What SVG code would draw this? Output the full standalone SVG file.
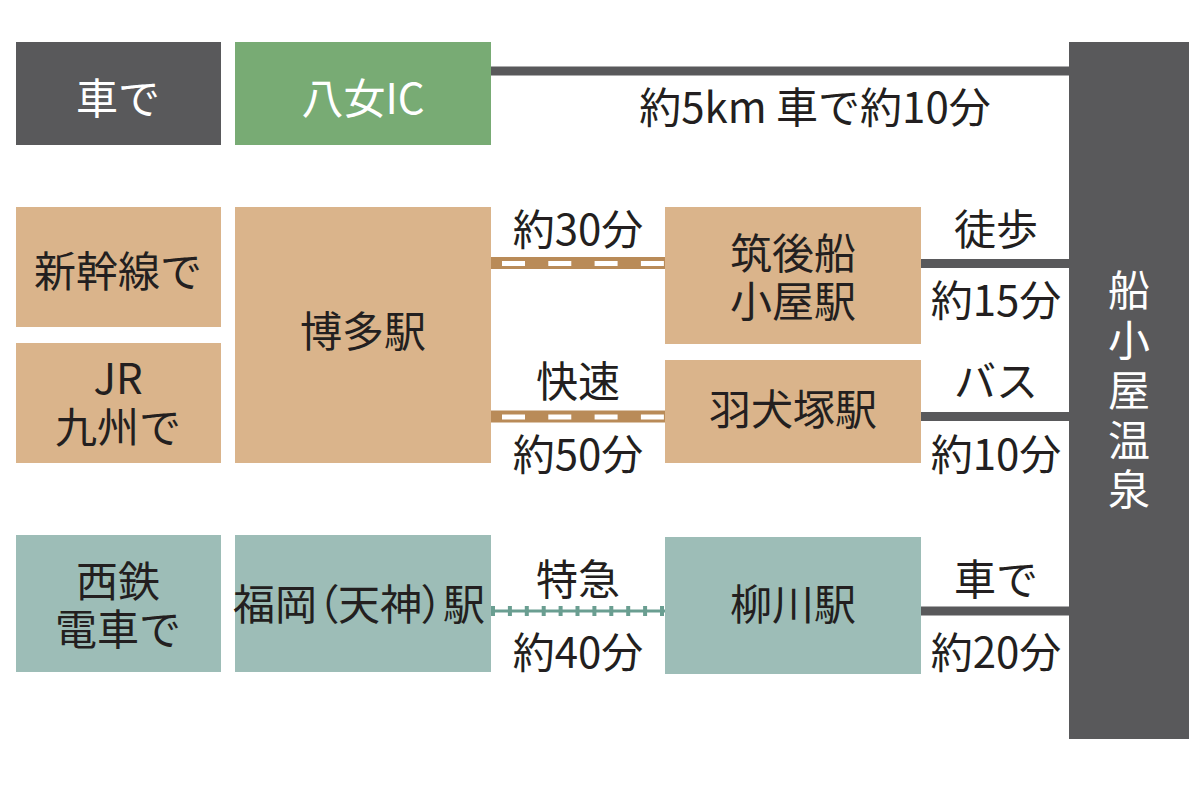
<svg xmlns="http://www.w3.org/2000/svg" width="1202" height="785" viewBox="0 0 1202 785">
<style>
text{font-family:"Noto Sans CJK JP","Noto Sans",sans-serif;font-size:42px;fill:#231f20;text-anchor:middle}
.w{fill:#ffffff}
.palt{font-feature-settings:"palt"}
.gray{fill:#59595b}
.green{fill:#78ab74}
.tan{fill:#dab48b}
.teal{fill:#9dbdb7}
.road{stroke:#59595b;stroke-width:9;fill:none}
.rail{stroke:#b98b58;stroke-width:12;fill:none}
.raildash{stroke:#ffffff;stroke-width:5;stroke-dasharray:23 23.3;fill:none}
.tram{stroke:#6a9e91;stroke-width:3;fill:none}
.tramtick{stroke:#6a9e91;stroke-width:10;stroke-dasharray:4 12.9;fill:none}
</style>
<rect width="1202" height="785" fill="#ffffff"/>
<g id="connectors">
  <line class="road" x1="491" y1="71" x2="1070" y2="71"/>
  <line class="road" x1="921" y1="263.5" x2="1070" y2="263.5"/>
  <line class="road" x1="921" y1="416.5" x2="1070" y2="416.5"/>
  <line class="road" x1="921" y1="611" x2="1070" y2="611"/>
  <line class="rail" x1="491" y1="263" x2="665" y2="263"/>
  <line class="raildash" x1="502" y1="263.5" x2="665" y2="263.5"/>
  <line class="rail" x1="491" y1="416.5" x2="665" y2="416.5"/>
  <line class="raildash" x1="502" y1="417" x2="665" y2="417"/>
  <line class="tram" x1="491" y1="611" x2="665" y2="611"/>
  <line class="tramtick" x1="491" y1="611" x2="665" y2="611"/>
  <text x="815" y="123">約5km 車で約10分</text>
  <text x="578" y="245">約30分</text>
  <text x="578" y="397">快速</text>
  <text x="578" y="470">約50分</text>
  <text x="578" y="595">特急</text>
  <text x="578" y="668">約40分</text>
  <text x="996" y="245">徒歩</text>
  <text x="996" y="316">約15分</text>
  <text x="996" y="397">バス</text>
  <text x="996" y="470">約10分</text>
  <text x="996" y="595">車で</text>
  <text x="996" y="668">約20分</text>
</g>
<g id="car">
  <rect class="gray" x="16" y="42" width="205" height="103"/>
  <text class="w" x="118" y="114">車で</text>
</g>
<g id="yame-ic">
  <rect class="green" x="235" y="42" width="256" height="103"/>
  <text class="w" x="363" y="114">八女IC</text>
</g>
<g id="shinkansen">
  <rect class="tan" x="16" y="207" width="205" height="120"/>
  <text x="118" y="287">新幹線で</text>
</g>
<g id="jr-kyushu">
  <rect class="tan" x="16" y="343" width="205" height="120"/>
  <text><tspan x="118" y="394">JR</tspan><tspan x="118" y="443">九州で</tspan></text>
</g>
<g id="hakata">
  <rect class="tan" x="235" y="207" width="256" height="256"/>
  <text x="363" y="347">博多駅</text>
</g>
<g id="chikugo-funagoya">
  <rect class="tan" x="665" y="207" width="256" height="137"/>
  <text><tspan x="793" y="269">筑後船</tspan><tspan x="793" y="317">小屋駅</tspan></text>
</g>
<g id="hainuzuka">
  <rect class="tan" x="665" y="360" width="256" height="103"/>
  <text x="793" y="425">羽犬塚駅</text>
</g>
<g id="nishitetsu">
  <rect class="teal" x="16" y="535" width="205" height="137"/>
  <text><tspan x="118" y="597">西鉄</tspan><tspan x="118" y="645">電車で</tspan></text>
</g>
<g id="fukuoka-tenjin">
  <rect class="teal" x="235" y="535" width="256" height="137"/>
  <text class="palt" x="359" y="620">福岡（天神）駅</text>
</g>
<g id="yanagawa">
  <rect class="teal" x="665" y="537" width="256" height="137"/>
  <text x="793" y="620">柳川駅</text>
</g>
<g id="funagoya-onsen">
  <rect class="gray" x="1069" y="42" width="120" height="697"/>
  <text class="w"><tspan x="1129" y="306">船</tspan><tspan x="1129" y="356">小</tspan><tspan x="1129" y="406">屋</tspan><tspan x="1129" y="456">温</tspan><tspan x="1129" y="505">泉</tspan></text>
</g>
</svg>
